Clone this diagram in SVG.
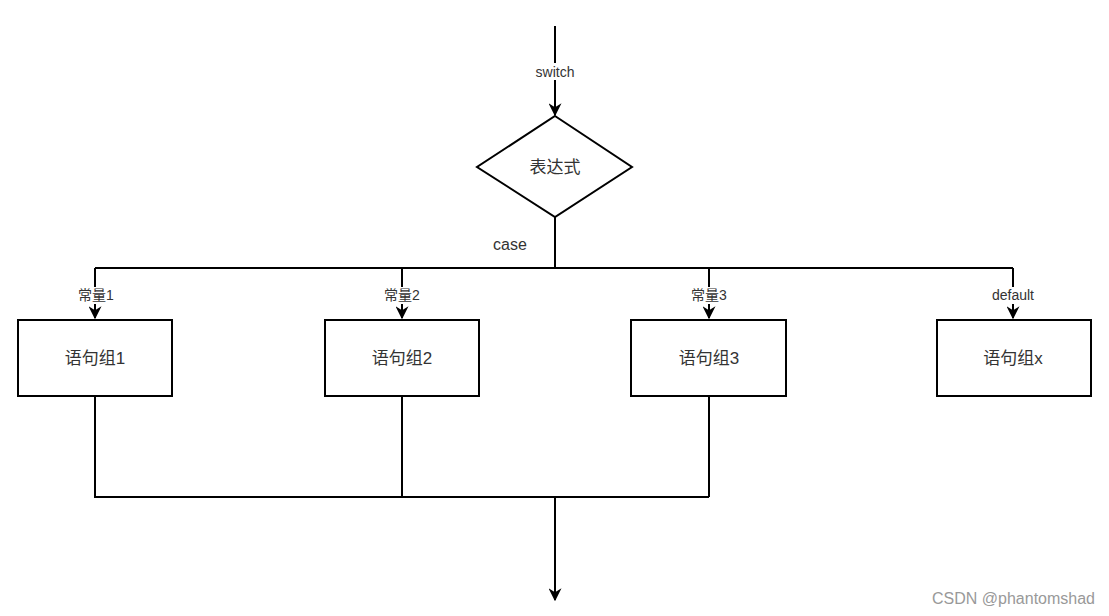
<svg xmlns="http://www.w3.org/2000/svg" width="1109" height="616" viewBox="0 0 1109 616">
<defs>
<marker id="arr" viewBox="0 0 10 10" refX="9" refY="5" markerWidth="6.5" markerHeight="6.5" orient="auto" markerUnits="strokeWidth">
<path d="M0,0 L10,5 L0,10 L3,5 Z" fill="#000"/>
</marker>
<style>
.ln{fill:none;stroke:#000;stroke-width:2}
.box{fill:#fff;stroke:#000;stroke-width:2}
.t{font-family:"Liberation Sans","Noto Sans CJK SC",sans-serif;fill:#333;text-anchor:middle}
.big{font-size:17px}
.sm{font-size:14px}
</style>
</defs>
<rect width="1109" height="616" fill="#fff"/>
<g id="connectors">
<path class="ln" d="M555,26 V115" marker-end="url(#arr)"/>
<path class="ln" d="M555,217 V268"/>
<path class="ln" d="M95,268 H1013"/>
<path class="ln" d="M95,268 V318" marker-end="url(#arr)"/>
<path class="ln" d="M402,268 V318" marker-end="url(#arr)"/>
<path class="ln" d="M709,268 V318" marker-end="url(#arr)"/>
<path class="ln" d="M1013,268 V318" marker-end="url(#arr)"/>
<path class="ln" d="M95,396 V497 H709 M402,396 V497 M709,396 V497"/>
<path class="ln" d="M555,497 V600" marker-end="url(#arr)"/>
<rect x="530" y="63" width="50" height="17" fill="#fff"/>
<text class="t sm" x="555" y="77">switch</text>
<text class="t" x="510" y="250" style="font-size:16px">case</text>
<rect x="72" y="287" width="48" height="17" fill="#fff"/>
<text class="t sm" x="96" y="300">常量1</text>
<rect x="378" y="287" width="48" height="17" fill="#fff"/>
<text class="t sm" x="402" y="300">常量2</text>
<rect x="685" y="287" width="48" height="17" fill="#fff"/>
<text class="t sm" x="709" y="300">常量3</text>
<rect x="987" y="287" width="52" height="17" fill="#fff"/>
<text class="t sm" x="1013" y="300">default</text>
</g>
<g id="expr">
<polygon class="box" points="555,116 632,167 555,217 477,167"/>
<text class="t big" x="555" y="173">表达式</text>
</g>
<g id="g1">
<rect class="box" x="18" y="320" width="154" height="76"/>
<text class="t big" x="95" y="364">语句组1</text>
</g>
<g id="g2">
<rect class="box" x="325" y="320" width="154" height="76"/>
<text class="t big" x="402" y="364">语句组2</text>
</g>
<g id="g3">
<rect class="box" x="631" y="320" width="155" height="76"/>
<text class="t big" x="709" y="364">语句组3</text>
</g>
<g id="gx">
<rect class="box" x="937" y="320" width="154" height="76"/>
<text class="t big" x="1013" y="364">语句组x</text>
</g>
<text x="1095" y="604" style="font-family:'Liberation Sans',sans-serif;font-size:16px;fill:#999;text-anchor:end">CSDN @phantomshad</text>
</svg>
